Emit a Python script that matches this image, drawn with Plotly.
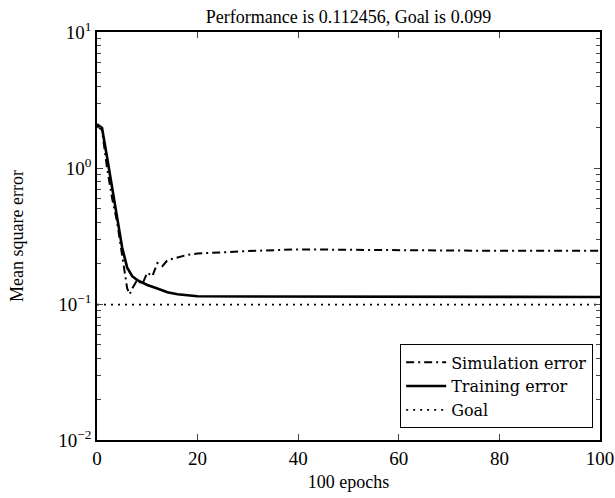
import plotly.graph_objects as go

sim_epochs = [0, 1, 2, 3, 4, 5, 6, 6.5, 7, 8, 9, 10, 11, 12, 13, 14, 16, 18, 20, 25, 30, 40, 50, 60, 70, 80, 90, 100]
sim_error = [2.05, 1.9, 1.0, 0.6, 0.4, 0.22, 0.13, 0.118, 0.13, 0.15, 0.14, 0.17, 0.16, 0.2, 0.19, 0.21, 0.22, 0.23, 0.235, 0.24, 0.245, 0.252, 0.25, 0.247, 0.246, 0.246, 0.246, 0.246]

train_epochs = [0, 1, 2, 3, 4, 5, 6, 7, 8, 9, 10, 12, 14, 16, 18, 20, 30, 50, 51, 100]
train_error = [2.1, 1.97, 1.2, 0.73, 0.45, 0.26, 0.185, 0.16, 0.15, 0.143, 0.138, 0.13, 0.122, 0.118, 0.116, 0.114, 0.1135, 0.1133, 0.1125, 0.1125]

goal_epochs = [0, 100]
goal_value = [0.099, 0.099]

y_major = [0.01, 0.1, 1, 10]
y_major_text = ["10<sup>−2</sup>", "10<sup>−1</sup>", "10<sup>0</sup>", "10<sup>1</sup>"]
y_minor = [m * d for d in [0.01, 0.1, 1] for m in range(2, 10)]
x_ticks = [0, 20, 40, 60, 80, 100]

font = "Liberation Serif"
lfont = "DejaVu Serif"

fig = go.Figure()
fig.add_trace(go.Scatter(x=sim_epochs, y=sim_error, mode="lines", name="Simulation error",
                         line=dict(color="black", width=2, dash="8px,4px,2px,4px")))
fig.add_trace(go.Scatter(x=train_epochs, y=train_error, mode="lines", name="Training error",
                         line=dict(color="black", width=2.6)))
fig.add_trace(go.Scatter(x=goal_epochs, y=goal_value, mode="lines", name="Goal",
                         line=dict(color="black", width=1.6, dash="2px,5px")))

fig.update_layout(
    width=615, height=498,
    margin=dict(l=97, r=15, t=32, b=58, autoexpand=False),
    paper_bgcolor="white", plot_bgcolor="white",
    font=dict(family=font, size=17, color="black"),
    title=dict(text="Performance is 0.112456, Goal is 0.099", x=(97 + 600) / 2 / 615, xanchor="center",
               y=1 - 17 / 498, yanchor="middle", font=dict(family=font, size=18, color="black")),
    showlegend=True,
    legend=dict(x=0.986, y=0.029, xanchor="right", yanchor="bottom",
                bordercolor="black", borderwidth=1.2, bgcolor="white",
                font=dict(family=lfont, size=16, color="black"), tracegroupgap=0, itemwidth=40),
    xaxis=dict(range=[0, 100], tickvals=x_ticks, ticks="inside", ticklen=6, tickwidth=1.2,
               showline=True, linecolor="black", linewidth=1.5, mirror="ticks",
               showgrid=False, zeroline=False, tickfont=dict(family=font, size=19),
               ticklabeloverflow="allow",
               title=dict(text="100 epochs", font=dict(family=font, size=18), standoff=8)),
    yaxis=dict(type="log", range=[-2, 1], tickvals=y_major, ticktext=y_major_text,
               ticks="inside", ticklen=6, tickwidth=1.2,
               showline=True, linecolor="black", linewidth=1.5, mirror="ticks",
               showgrid=False, zeroline=False, tickfont=dict(family=font, size=19),
               minor=dict(tickvals=y_minor, ticks="inside", ticklen=4, tickwidth=1, showgrid=False),
               title=dict(text="Mean square error", font=dict(family=font, size=18), standoff=30)),
)

fig.write_html("out.html")
